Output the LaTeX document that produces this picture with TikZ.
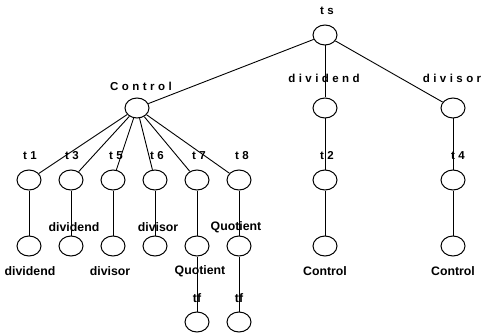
\documentclass[tikz,border=0pt]{standalone}
\usepackage{fontspec}
\setmainfont{Liberation Sans}
\newfontfamily\spaced[LetterSpace=30]{Liberation Sans}
\usetikzlibrary{shapes.geometric}
\tikzset{
  vtx/.style={draw, ellipse, minimum width=24pt, minimum height=20pt, inner sep=0pt, line width=1pt},
  top/.style={font=\spaced\bfseries\fontsize{11.5}{13}\selectfont, inner sep=0pt},
  bot/.style={font=\bfseries\fontsize{12.3}{14}\selectfont, inner sep=0pt},
  edge/.style={line width=0.9pt}
}
\begin{document}
\begin{tikzpicture}[x=1pt,y=-1pt]
\useasboundingbox (0,0) rectangle (484,334);
% vertices
\node[vtx] (ts) at (325,35) {};
\node[vtx] (C) at (137,108) {};
\node[vtx] (D) at (325,108) {};
\node[vtx] (V) at (453,108) {};
\node[vtx] (t1) at (29,180) {};
\node[vtx] (t3) at (71,180) {};
\node[vtx] (t5) at (113,180) {};
\node[vtx] (t6) at (155,180) {};
\node[vtx] (t7) at (197,180) {};
\node[vtx] (t8) at (239,180) {};
\node[vtx] (t2) at (325,180) {};
\node[vtx] (t4) at (453,180) {};
\node[vtx] (c1) at (29,246) {};
\node[vtx] (c3) at (71,246) {};
\node[vtx] (c5) at (113,246) {};
\node[vtx] (c6) at (155,246) {};
\node[vtx] (c7) at (197,246) {};
\node[vtx] (c8) at (239,246) {};
\node[vtx] (c2) at (325,246) {};
\node[vtx] (c4) at (453,246) {};
\node[vtx] (f7) at (197,322) {};
\node[vtx] (f8) at (239,322) {};
% edges
\draw[edge] (ts) -- (C);
\draw[edge] (ts) -- (D);
\draw[edge] (ts) -- (V);
\foreach \n in {t1,t3,t5,t6,t7,t8} \draw[edge] (C) -- (\n);
\draw[edge] (D) -- (t2);
\draw[edge] (V) -- (t4);
\draw[edge] (t1) -- (c1);
\draw[edge] (t3) -- (c3);
\draw[edge] (t5) -- (c5);
\draw[edge] (t6) -- (c6);
\draw[edge] (t7) -- (c7);
\draw[edge] (t8) -- (c8);
\draw[edge] (t2) -- (c2);
\draw[edge] (t4) -- (c4);
\draw[edge] (c7) -- (f7);
\draw[edge] (c8) -- (f8);
% top labels
\node[top] (lts) at (327,11) {ts};
\node[top] (lC) at (141,86) {Control};
\node[top] (lD) at (324,78) {dividend};
\node[top] (lV) at (452,78) {divisor};
\node[top] (l1) at (30,156) {t1};
\node[top] (l3) at (72,156) {t3};
\node[top] (l5) at (116,156) {t5};
\node[top] (l6) at (157,156) {t6};
\node[top] (l7) at (199,156) {t7};
\node[top] (l8) at (242,156) {t8};
\node[top] (l2) at (327,156) {t2};
\node[top] (l4) at (458,156) {t4};
% bottom labels
\node[bot] (b1) at (30,271) {dividend};
\node[bot] (b3) at (74,227) {dividend};
\node[bot] (b5) at (110,271) {divisor};
\node[bot] (b6) at (158,227) {divisor};
\node[bot] (b7) at (200,271) {Quotient};
\node[bot] (b8) at (236,227) {Quotient};
\node[bot] (b9) at (197,298) {tf};
\node[bot] (b10) at (239,298) {tf};
\node[bot] (b2) at (325,271) {Control};
\node[bot] (b4) at (453,271) {Control};
\end{tikzpicture}
\end{document}
